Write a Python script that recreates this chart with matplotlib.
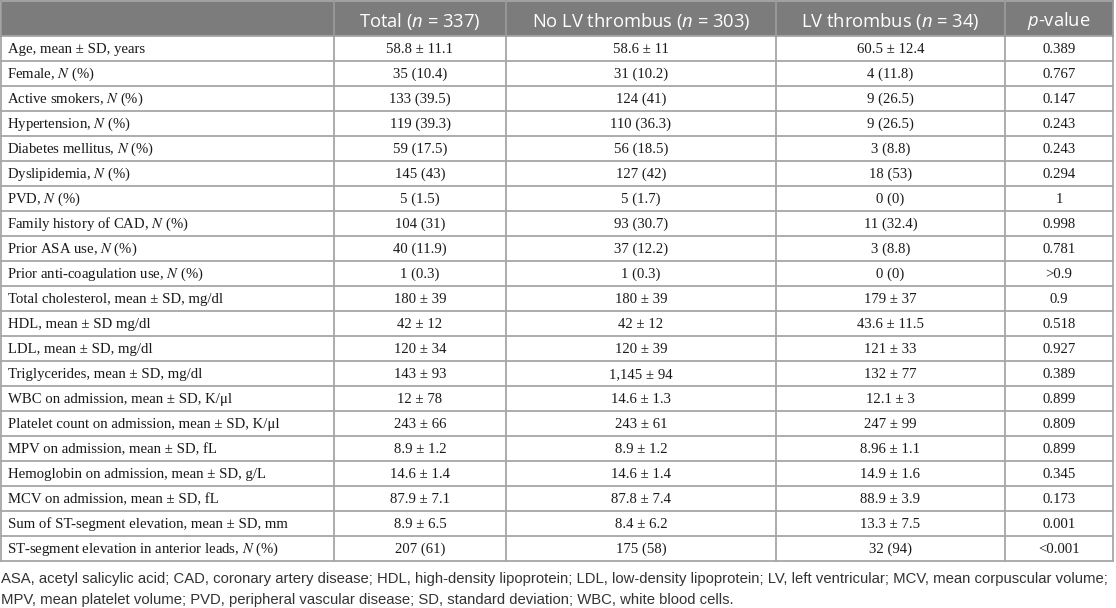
import matplotlib
matplotlib.use('Agg')
import matplotlib.pyplot as plt
from matplotlib import font_manager
from matplotlib.patches import Rectangle

# Table content
headers = ['', 'Total ($n$ = 337)', 'No LV thrombus ($n$ = 303)', 'LV thrombus ($n$ = 34)', '$p$-value']
variables = [
    'Age, mean ± SD, years',
    'Female, $N$ (%)',
    'Active smokers, $N$ (%)',
    'Hypertension, $N$ (%)',
    'Diabetes mellitus, $N$ (%)',
    'Dyslipidemia, $N$ (%)',
    'PVD, $N$ (%)',
    'Family history of CAD, $N$ (%)',
    'Prior ASA use, $N$ (%)',
    'Prior anti-coagulation use, $N$ (%)',
    'Total cholesterol, mean ± SD, mg/dl',
    'HDL, mean ± SD mg/dl',
    'LDL, mean ± SD, mg/dl',
    'Triglycerides, mean ± SD, mg/dl',
    'WBC on admission, mean ± SD, K/μl',
    'Platelet count on admission, mean ± SD, K/μl',
    'MPV on admission, mean ± SD, fL',
    'Hemoglobin on admission, mean ± SD, g/L',
    'MCV on admission, mean ± SD, fL',
    'Sum of ST-segment elevation, mean ± SD, mm',
    'ST-segment elevation in anterior leads, $N$ (%)',
]
total = ['58.8 ± 11.1', '35 (10.4)', '133 (39.5)', '119 (39.3)', '59 (17.5)', '145 (43)',
         '5 (1.5)', '104 (31)', '40 (11.9)', '1 (0.3)', '180 ± 39', '42 ± 12', '120 ± 34',
         '143 ± 93', '12 ± 78', '243 ± 66', '8.9 ± 1.2', '14.6 ± 1.4', '87.9 ± 7.1',
         '8.9 ± 6.5', '207 (61)']
no_lv = ['58.6 ± 11', '31 (10.2)', '124 (41)', '110 (36.3)', '56 (18.5)', '127 (42)',
         '5 (1.7)', '93 (30.7)', '37 (12.2)', '1 (0.3)', '180 ± 39', '42 ± 12', '120 ± 39',
         '1,145 ± 94', '14.6 ± 1.3', '243 ± 61', '8.9 ± 1.2', '14.6 ± 1.4', '87.8 ± 7.4',
         '8.4 ± 6.2', '175 (58)']
lv = ['60.5 ± 12.4', '4 (11.8)', '9 (26.5)', '9 (26.5)', '3 (8.8)', '18 (53)',
      '0 (0)', '11 (32.4)', '3 (8.8)', '0 (0)', '179 ± 37', '43.6 ± 11.5', '121 ± 33',
      '132 ± 77', '12.1 ± 3', '247 ± 99', '8.96 ± 1.1', '14.9 ± 1.6', '88.9 ± 3.9',
      '13.3 ± 7.5', '32 (94)']
p_values = ['0.389', '0.767', '0.147', '0.243', '0.243', '0.294', '1', '0.998', '0.781',
            '>0.9', '0.9', '0.518', '0.927', '0.389', '0.899', '0.809', '0.899', '0.345',
            '0.173', '0.001', '<0.001']
footnote = [
    'ASA, acetyl salicylic acid; CAD, coronary artery disease; HDL, high-density lipoprotein; '
    'LDL, low-density lipoprotein; LV, left ventricular; MCV, mean corpuscular volume;',
    'MPV, mean platelet volume; PVD, peripheral vascular disease; SD, standard deviation; '
    'WBC, white blood cells.',
]

# Layout (pixels)
col_edges = [1, 334, 506, 776, 1005, 1113]
header_h = 36
row_h = 25
header_bg = '#7c7c7c'
line_col = '#a6a6a6'
text_col = '#1a1a1a'

plt.rcParams['mathtext.fontset'] = 'custom'
plt.rcParams['mathtext.rm'] = 'Open Sans'
plt.rcParams['mathtext.it'] = 'Open Sans:italic'

try:
    font_manager.findfont('Liberation Sans Narrow', fallback_to_default=False)
    foot_family = 'Liberation Sans Narrow'
except Exception:
    foot_family = 'Liberation Sans'

fig = plt.figure(figsize=(11.16, 6.08), dpi=100)
ax = fig.add_axes([0, 0, 1, 1])
ax.set_xlim(0, 1116)
ax.set_ylim(608, 0)
ax.axis('off')

n_rows = len(variables)
table_bottom = header_h + n_rows * row_h

# header
ax.add_patch(Rectangle((col_edges[0], 0), col_edges[-1] - col_edges[0], header_h,
                       facecolor=header_bg, edgecolor='none'))
for j, h in enumerate(headers):
    if not h:
        continue
    cx = (col_edges[j] + col_edges[j + 1]) / 2
    ax.text(cx, header_h / 2 + 3, h, ha='center', va='center', color='white',
            fontsize=13.2, family='Open Sans', math_fontfamily='custom')

# body
columns = [total, no_lv, lv, p_values]
for i in range(n_rows):
    cy = header_h + (i + 0.5) * row_h + 1
    # mathtext strings get a little leading pad, pull them back to line up
    x0 = col_edges[0] + (6.3 if '$' in variables[i] else 7)
    ax.text(x0, cy, variables[i], ha='left', va='center', color=text_col,
            fontsize=10.6, family='Liberation Serif', math_fontfamily='stix')
    for j, col in enumerate(columns):
        cx = (col_edges[j + 1] + col_edges[j + 2]) / 2
        ax.text(cx, cy, col[i], ha='center', va='center', color=text_col,
                fontsize=10.6, family='Liberation Serif')

# grid lines
for k in range(n_rows + 1):
    y = header_h + k * row_h
    ax.plot([col_edges[0], col_edges[-1]], [y, y], color=line_col, lw=1.3)
ax.plot([col_edges[0], col_edges[-1]], [0.7, 0.7], color=line_col, lw=1.3)
for x in col_edges:
    ax.plot([x, x], [header_h, table_bottom], color=line_col, lw=1.3)
    ax.plot([x, x], [0, header_h], color='#9a9a9a', lw=1.3)

# footnote, sized so the first line fills the table width
foot_texts = []
for k, line in enumerate(footnote):
    t = ax.text(1, table_bottom + 18 + k * 21, line, ha='left', va='center', color='#333333',
                fontsize=10, family=foot_family)
    foot_texts.append(t)
fig.canvas.draw()
w = foot_texts[0].get_window_extent(fig.canvas.get_renderer()).width
size = 10 * 1108 / w
for t in foot_texts:
    t.set_fontsize(size)

fig.savefig('out.png', dpi=100)
